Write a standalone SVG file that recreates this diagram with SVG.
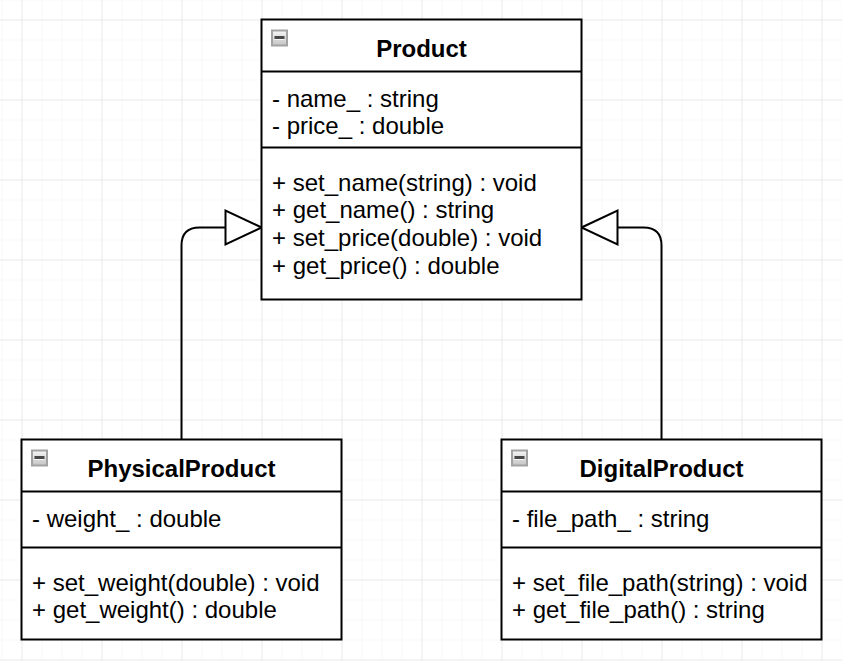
<svg xmlns="http://www.w3.org/2000/svg" width="842" height="661" viewBox="0 0 842 661">
  <defs>
    <pattern id="minor" x="1.5" y="-0.5" width="20" height="20" patternUnits="userSpaceOnUse">
      <path d="M0,0 V20 M0,0 H20" fill="none" stroke="#f2f2f2" stroke-width="1"/>
    </pattern>
    <pattern id="major" x="21.5" y="19.5" width="80" height="80" patternUnits="userSpaceOnUse">
      <path d="M0,0 V80 M0,0 H80" fill="none" stroke="#dedede" stroke-width="1"/>
    </pattern>
    <linearGradient id="icongrad" x1="0" y1="0" x2="0" y2="1">
      <stop offset="0" stop-color="#f6f6f6"/>
      <stop offset="1" stop-color="#c4c4c4"/>
    </linearGradient>
    <g id="icon">
      <rect x="1" y="1" width="15" height="15" fill="url(#icongrad)" stroke="#a3a3a3" stroke-width="2"/>
      <rect x="3.5" y="6.5" width="10" height="3" fill="#474747"/>
      <rect x="3.5" y="9.5" width="10" height="1" fill="#ffffff" opacity="0.8"/>
    </g>
  </defs>
  <style>
    .box { fill: #ffffff; stroke: #000000; stroke-width: 2; }
    .div { stroke: #000000; stroke-width: 2; fill: none; }
    .title { font-family: "Liberation Sans", Arial, sans-serif; font-size: 24px; font-weight: bold; fill: #000000; text-anchor: middle; }
    .txt { font-family: "Liberation Sans", Arial, sans-serif; font-size: 24px; fill: #000000; }
    .edge { fill: none; stroke: #000000; stroke-width: 2; }
    .head { fill: #ffffff; stroke: #000000; stroke-width: 2; stroke-linejoin: miter; }
  </style>
  <rect width="842" height="661" fill="#ffffff"/>
  <rect width="842" height="661" fill="url(#minor)"/>
  <rect width="842" height="661" fill="url(#major)"/>

  <g id="connectors">
    <path class="edge" d="M181.5,439.5 L181.5,245.5 Q181.5,227.5 199.5,227.5 L225.5,227.5"/>
    <polygon class="head" points="261.5,227.5 225.5,210.5 225.5,244.5"/>
    <path class="edge" d="M661.5,439.5 L661.5,245.5 Q661.5,227.5 643.5,227.5 L617.5,227.5"/>
    <polygon class="head" points="581.5,227.5 617.5,210.5 617.5,244.5"/>
  </g>

  <g id="product">
    <rect class="box" x="261.5" y="19.5" width="320" height="280"/>
    <line class="div" x1="261.5" y1="71.5" x2="581.5" y2="71.5"/>
    <line class="div" x1="261.5" y1="147.5" x2="581.5" y2="147.5"/>
    <use href="#icon" x="271" y="29.5"/>
    <text class="title" x="421.5" y="56.5">Product</text>
    <text class="txt" x="272" y="106.5">- name_ : string</text>
    <text class="txt" x="272" y="134">- price_ : double</text>
    <text class="txt" x="272" y="190.5">+ set_name(string) : void</text>
    <text class="txt" x="272" y="218.2">+ get_name() : string</text>
    <text class="txt" x="272" y="245.9">+ set_price(double) : void</text>
    <text class="txt" x="272" y="273.6">+ get_price() : double</text>
  </g>

  <g id="physicalproduct">
    <rect class="box" x="21.5" y="439.5" width="320" height="200"/>
    <line class="div" x1="21.5" y1="491.5" x2="341.5" y2="491.5"/>
    <line class="div" x1="21.5" y1="547.5" x2="341.5" y2="547.5"/>
    <use href="#icon" x="31" y="449.5"/>
    <text class="title" x="181.5" y="476.5">PhysicalProduct</text>
    <text class="txt" x="32" y="526.5">- weight_ : double</text>
    <text class="txt" x="32" y="590.5">+ set_weight(double) : void</text>
    <text class="txt" x="32" y="618">+ get_weight() : double</text>
  </g>

  <g id="digitalproduct">
    <rect class="box" x="501.5" y="439.5" width="320" height="200"/>
    <line class="div" x1="501.5" y1="491.5" x2="821.5" y2="491.5"/>
    <line class="div" x1="501.5" y1="547.5" x2="821.5" y2="547.5"/>
    <use href="#icon" x="511" y="449.5"/>
    <text class="title" x="661.5" y="476.5">DigitalProduct</text>
    <text class="txt" x="512" y="526.5">- file_path_ : string</text>
    <text class="txt" x="512" y="590.5">+ set_file_path(string) : void</text>
    <text class="txt" x="512" y="618">+ get_file_path() : string</text>
  </g>
</svg>
